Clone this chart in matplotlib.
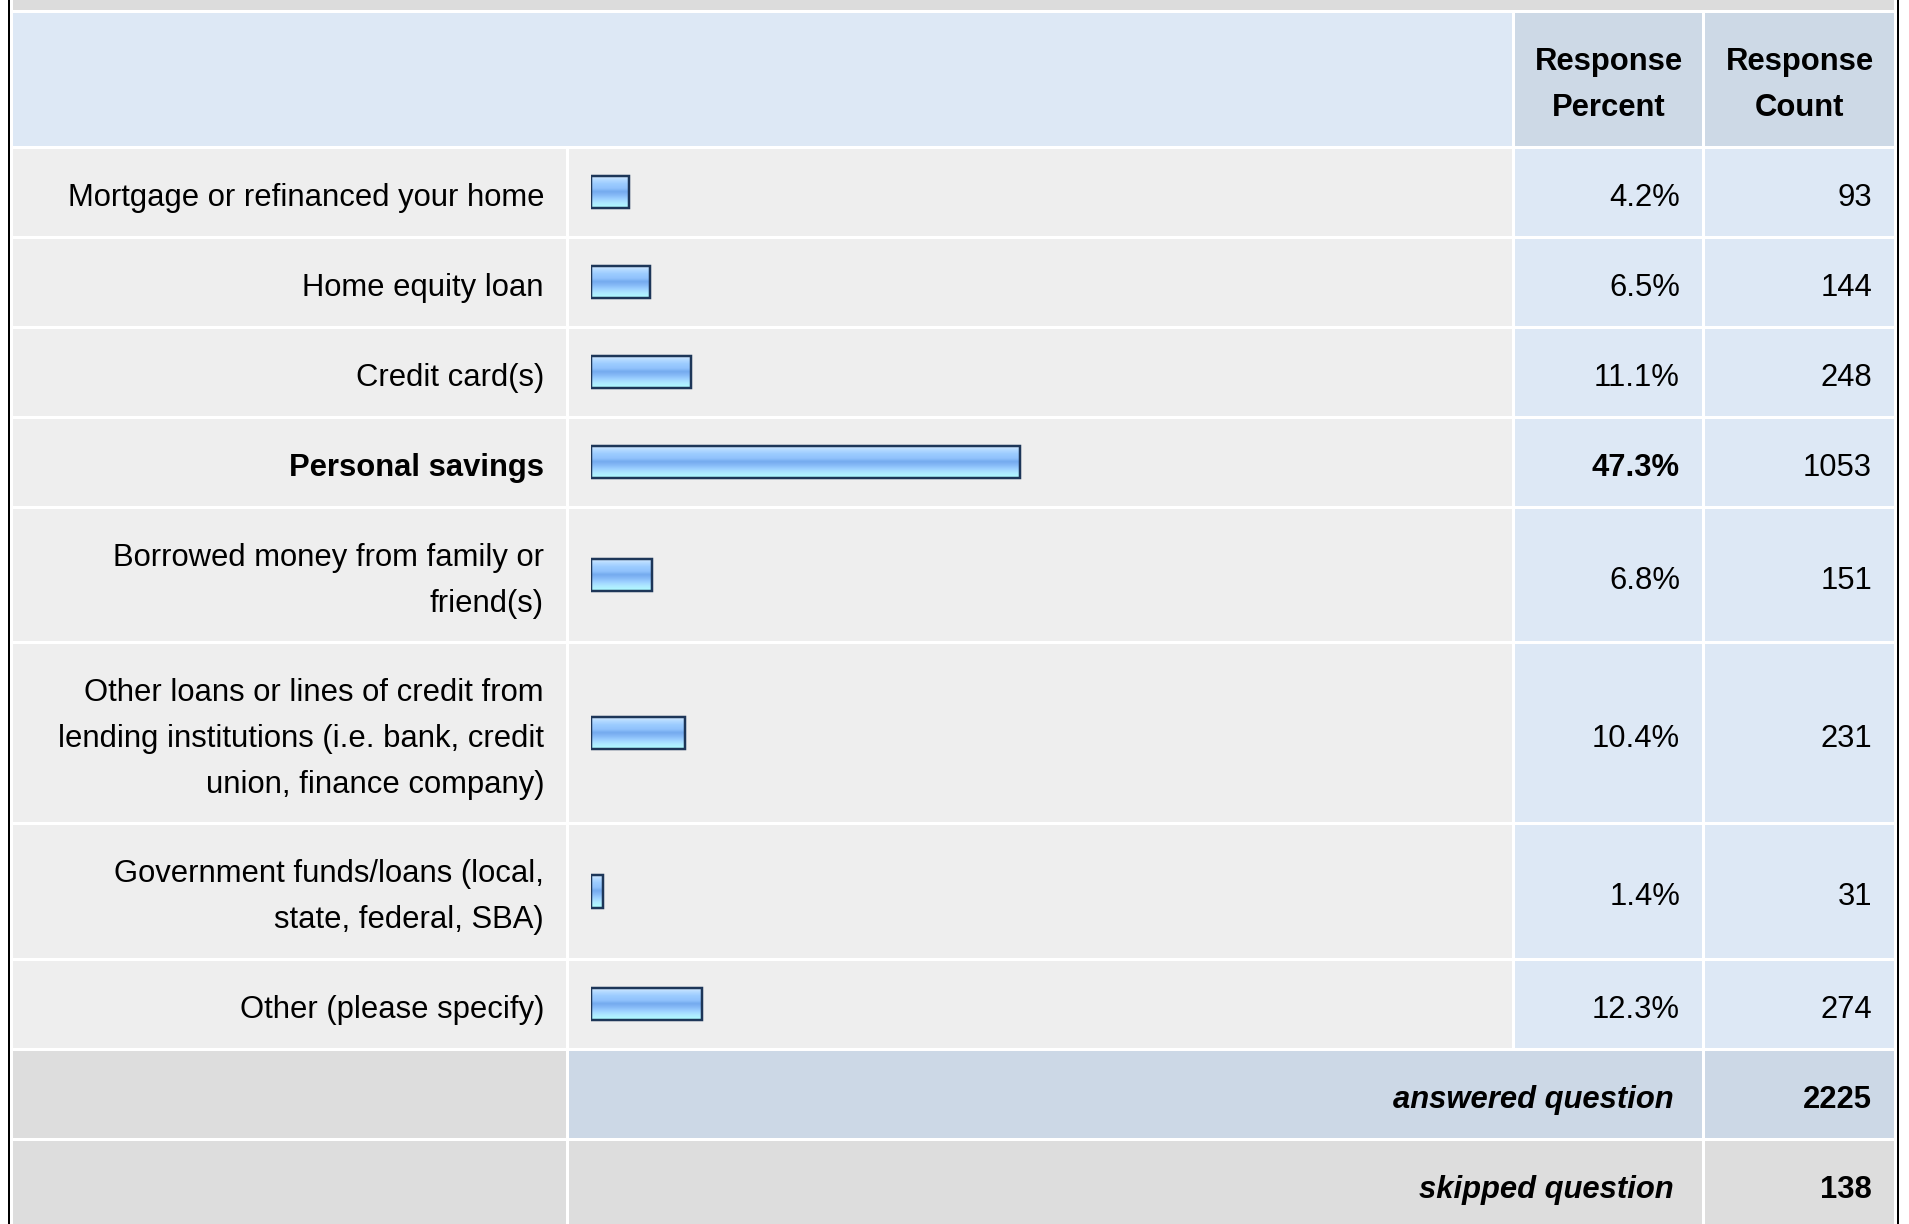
import numpy as np
import matplotlib.pyplot as plt
from matplotlib.patches import Rectangle
from matplotlib.colors import LinearSegmentedColormap

# survey answers
labels = [
    "Mortgage or refinanced your home",
    "Home equity loan",
    "Credit card(s)",
    "Personal savings",
    "Borrowed money from family or\nfriend(s)",
    "Other loans or lines of credit from\nlending institutions (i.e. bank, credit\nunion, finance company)",
    "Government funds/loans (local,\nstate, federal, SBA)",
    "Other (please specify)",
]
percent = [4.2, 6.5, 11.1, 47.3, 6.8, 10.4, 1.4, 12.3]
counts = [93, 144, 248, 1053, 151, 231, 31, 274]
headers = ["Response\nPercent", "Response\nCount"]
answered = 2225
skipped = 138

W, H = 1909, 1224
fig = plt.figure(figsize=(W / 100, H / 100), dpi=100)
ax = fig.add_axes([0, 0, 1, 1])
ax.set_xlim(0, W)
ax.set_ylim(H, 0)
ax.axis('off')

FONT = 'Liberation Sans'
FS = 22.3
LINE = 46
GAP = 1.5

# column edges (pixels)
x_left, x_bar, x_pct, x_cnt, x_right = 11.5, 567.5, 1513.5, 1703.5, 1895.5


def row_h(n):
    return 44.5 + 45.5 * n


def cell(x0, x1, y0, y1, color):
    ax.add_patch(Rectangle((x0 + GAP, y0 + GAP), x1 - x0 - 2 * GAP, y1 - y0 - 2 * GAP,
                           facecolor=color, edgecolor='none'))


def text(x, yc, s, ha='right', weight='normal', style='normal'):
    lines = s.split('\n')
    n = len(lines)
    for i, ln in enumerate(lines):
        ax.text(x, yc + 14 + (i - (n - 1) / 2) * LINE, ln, ha=ha, va='baseline',
                fontsize=FS, family=FONT, weight=weight, style=style, color='black')


# outer frame
ax.add_patch(Rectangle((13, 0), 1881, 10, facecolor='#dcdcdc', edgecolor='none'))
ax.add_patch(Rectangle((8, 0), 2, H, facecolor='black', edgecolor='none'))
ax.add_patch(Rectangle((1897, 0), 2, H, facecolor='black', edgecolor='none'))

# header
y = 11.5
hb = y + row_h(2)
cell(x_left, x_pct, y, hb, '#dde8f5')
cell(x_pct, x_cnt, y, hb, '#cdd9e6')
cell(x_cnt, x_right, y, hb, '#cdd9e6')
text((x_pct + x_cnt) / 2, (y + hb) / 2, headers[0], ha='center', weight='bold')
text((x_cnt + x_right) / 2, (y + hb) / 2, headers[1], ha='center', weight='bold')
y = hb

best = int(np.argmax(percent))
centers = []
for i, (lab, p, c) in enumerate(zip(labels, percent, counts)):
    h = row_h(lab.count('\n') + 1)
    yc = y + h / 2
    centers.append(yc)
    cell(x_left, x_bar, y, y + h, '#eeeeee')
    cell(x_bar, x_pct, y, y + h, '#eeeeee')
    cell(x_pct, x_cnt, y, y + h, '#dde8f5')
    cell(x_cnt, x_right, y, y + h, '#dde8f5')
    w = 'bold' if i == best else 'normal'
    text(544, yc, lab, weight=w)
    text(1680, yc, f"{p:.1f}%", weight=w)
    text(1872, yc, str(c))
    y += h

# totals
h = row_h(1)
cell(x_left, x_bar, y, y + h, '#dddddd')
cell(x_bar, x_cnt, y, y + h, '#ccd8e6')
cell(x_cnt, x_right, y, y + h, '#ccd8e6')
text(1674, y + h / 2, "answered question", weight='bold', style='italic')
text(1872, y + h / 2, str(answered), weight='bold')
y += h
cell(x_left, x_bar, y, y + h, '#dddddd')
cell(x_bar, x_cnt, y, y + h, '#dddddd')
cell(x_cnt, x_right, y, y + h, '#dddddd')
text(1674, y + h / 2, "skipped question", weight='bold', style='italic')
text(1872, y + h / 2, str(skipped), weight='bold')

# bars
x0_px, scale = 590.5, 9.08
bx = fig.add_axes([x0_px / W, 0, (x_pct - x0_px) / W, 1])
xmax = (x_pct - x0_px) / scale
bar_h = 32.5
bars = bx.barh(centers, percent, height=bar_h, facecolor='none',
               edgecolor='#1d3658', linewidth=2.5 * 0.72, zorder=3)
grad = LinearSegmentedColormap.from_list('bar', [
    (0.00, '#e0f0ff'), (0.12, '#b8dcff'), (0.25, '#9dcdff'), (0.40, '#90c2fc'),
    (0.50, '#74aaee'), (0.60, '#84b8f6'), (0.72, '#9cd0ff'), (0.85, '#aee8ff'),
    (1.00, '#b0ffff')])
g = np.linspace(0, 1, 64).reshape(-1, 1)
for b in bars:
    bb = b.get_bbox()
    im = bx.imshow(g, cmap=grad, aspect='auto', interpolation='bilinear',
                   extent=(bb.x0, bb.x1, bb.y1, bb.y0), zorder=2)
    im.set_clip_path(b)
bx.set_xlim(0, xmax)
bx.set_ylim(H, 0)
bx.axis('off')

fig.savefig('out.png', dpi=100, facecolor='white')
